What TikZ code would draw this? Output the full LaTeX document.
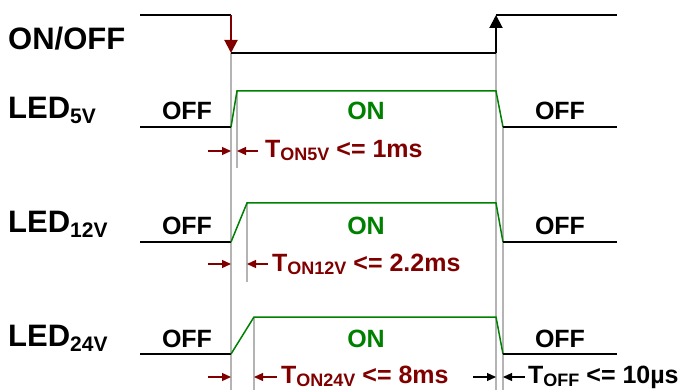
\documentclass[tikz,border=0pt]{standalone}
\usepackage{fontspec}
\setmainfont{Liberation Sans}
\usetikzlibrary{arrows.meta}
\definecolor{dred}{HTML}{800000}
\definecolor{dgreen}{HTML}{008000}
\definecolor{guide}{HTML}{B4B4B4}
\newcommand\lsub[1]{\raisebox{-5pt}{\fontsize{21}{21}\selectfont #1}}
\newcommand\tsub[1]{\raisebox{-3pt}{\fontsize{18}{18}\selectfont #1}}
\begin{document}
\begin{tikzpicture}[x=1pt,y=-1pt,
  sig/.style={line width=2pt,black},
  onsig/.style={line width=1.5pt,dgreen},
  guideline/.style={line width=1.2pt,guide},
  tarrow/.style={line width=1.2pt,-{Triangle[length=9pt,width=8pt]}},
  bigarrow/.style={line width=2pt,-{Triangle[length=13pt,width=13pt]}},
  lbl/.style={inner sep=0pt,anchor=base west,font=\bfseries\fontsize{31}{31}\selectfont},
  state/.style={inner sep=0pt,anchor=base,font=\bfseries\fontsize{25}{25}\selectfont},
  tlbl/.style={inner sep=0pt,anchor=base west,font=\bfseries\fontsize{25}{25}\selectfont},
]
\useasboundingbox (0,0) rectangle (688,390);

% ---------- guide lines ----------
\coordinate (g1a) at (231,53);  \coordinate (g1b) at (231,390);
\coordinate (g2a) at (496,53);  \coordinate (g2b) at (496,390);
\coordinate (g3a) at (237,91);  \coordinate (g3b) at (237,168);
\coordinate (g4a) at (247,203); \coordinate (g4b) at (247,282);
\coordinate (g5a) at (254,317); \coordinate (g5b) at (254,390);
\coordinate (g6a) at (503,127); \coordinate (g6b) at (503,390);
\foreach \g in {1,...,6} \draw[guideline] (g\g a) -- (g\g b);

% ---------- ON/OFF ----------
\node[lbl] (lonoff) at (8,50) {ON/OFF};
\coordinate (s0) at (140,15);
\coordinate (s1) at (231,15);
\coordinate (s2) at (231,53);
\coordinate (s3) at (496,53);
\coordinate (s4) at (496,15);
\coordinate (s5) at (617,15);
\draw[sig] (s0) -- (s1);
\draw[sig] (s2) -- (s3);
\draw[sig] (s4) -- (s5);
\draw[bigarrow,dred] (s1) -- (s2);
\draw[bigarrow,black] (s3) -- (s4);

% ---------- LED rows ----------
% row 1
\node[lbl] (l5) at (8,119) {LED\lsub{5V}};
\coordinate (a0) at (140,127); \coordinate (a1) at (231,127);
\coordinate (a2) at (237,91);  \coordinate (a3) at (496,91);
\coordinate (a4) at (503,127); \coordinate (a5) at (617,127);
\draw[sig,line width=1.5pt] (a0) -- (a1);
\draw[onsig] (a1) -- (a2) -- (a3) -- (a4);
\draw[sig,line width=1.5pt] (a4) -- (a5);
\node[state] (o5a) at (187,120) {OFF};
\node[state,text=dgreen] (on5) at (366,120) {ON};
\node[state] (o5b) at (560,120) {OFF};

% row 2
\node[lbl] (l12) at (8,233) {LED\lsub{12V}};
\coordinate (b0) at (140,242); \coordinate (b1) at (231,242);
\coordinate (b2) at (247,203); \coordinate (b3) at (496,203);
\coordinate (b4) at (503,242); \coordinate (b5) at (617,242);
\draw[sig,line width=1.5pt] (b0) -- (b1);
\draw[onsig] (b1) -- (b2) -- (b3) -- (b4);
\draw[sig,line width=1.5pt] (b4) -- (b5);
\node[state] (o12a) at (187,234) {OFF};
\node[state,text=dgreen] (on12) at (366,234) {ON};
\node[state] (o12b) at (560,234) {OFF};

% row 3
\node[lbl] (l24) at (8,346) {LED\lsub{24V}};
\coordinate (c0) at (140,354); \coordinate (c1) at (231,354);
\coordinate (c2) at (254,317); \coordinate (c3) at (496,317);
\coordinate (c4) at (503,354); \coordinate (c5) at (617,354);
\draw[sig,line width=1.5pt] (c0) -- (c1);
\draw[onsig] (c1) -- (c2) -- (c3) -- (c4);
\draw[sig,line width=1.5pt] (c4) -- (c5);
\node[state] (o24a) at (187,347) {OFF};
\node[state,text=dgreen] (on24) at (366,347) {ON};
\node[state] (o24b) at (560,347) {OFF};

% ---------- timing annotations ----------
% row 1
\coordinate (t1a) at (208,151); \coordinate (t1b) at (231,151);
\coordinate (t1c) at (258,151); \coordinate (t1d) at (237,151);
\draw[tarrow,dred] (t1a) -- (t1b);
\draw[tarrow,dred] (t1c) -- (t1d);
\node[tlbl,text=dred] (tt1) at (265,158) {T\tsub{ON5V} <= 1ms};
% row 2
\coordinate (t2a) at (208,264); \coordinate (t2b) at (231,264);
\coordinate (t2c) at (268,264); \coordinate (t2d) at (247,264);
\draw[tarrow,dred] (t2a) -- (t2b);
\draw[tarrow,dred] (t2c) -- (t2d);
\node[tlbl,text=dred] (tt2) at (272,271) {T\tsub{ON12V} <= 2.2ms};
% row 3
\coordinate (t3a) at (208,377); \coordinate (t3b) at (231,377);
\coordinate (t3c) at (277,377); \coordinate (t3d) at (254,377);
\draw[tarrow,dred] (t3a) -- (t3b);
\draw[tarrow,dred] (t3c) -- (t3d);
\node[tlbl,text=dred] (tt3) at (281,383) {T\tsub{ON24V} <= 8ms};
% T_OFF
\coordinate (t4a) at (473,377); \coordinate (t4b) at (496,377);
\coordinate (t4c) at (525,377); \coordinate (t4d) at (503,377);
\draw[tarrow,black] (t4a) -- (t4b);
\draw[tarrow,black] (t4c) -- (t4d);
\node[tlbl] (tt4) at (528,383) {T\tsub{OFF} <= 10µs};
\end{tikzpicture}
\end{document}
